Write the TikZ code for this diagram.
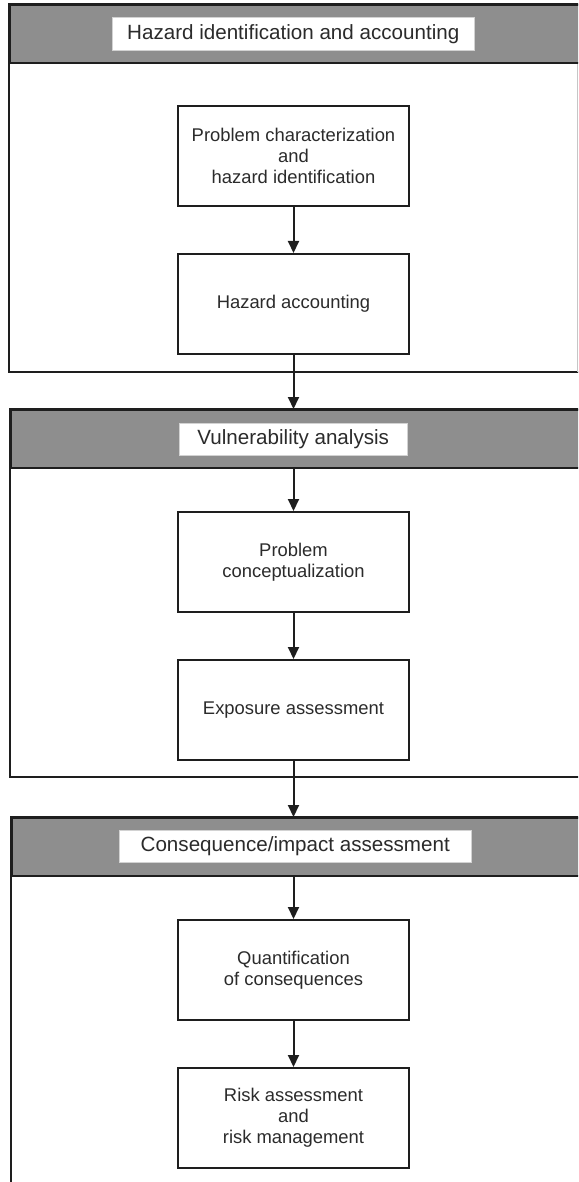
\documentclass[tikz,border=0pt]{standalone}
\usepackage{fontspec}
\setmainfont{Liberation Sans}
\usetikzlibrary{arrows.meta}
\definecolor{hdr}{HTML}{8E8E8E}
\definecolor{ink}{HTML}{1E1E1E}
\definecolor{txt}{HTML}{2B2B2B}
\begin{document}
\begin{tikzpicture}[x=1pt,y=-1pt,
  panel/.style={draw=ink,line width=2pt},
  header/.style={draw=ink,line width=2.4pt,fill=hdr,anchor=north west,inner sep=0pt,minimum height=58pt},
  title/.style={fill=white,draw=gray!35,line width=0.5pt,anchor=north west,inner sep=0pt,font=\fontsize{20.6}{24}\selectfont,text=txt},
  stepbox/.style={draw=ink,line width=2pt,fill=white,anchor=north west,inner sep=0pt,minimum width=231pt,minimum height=100pt,align=center,font=\fontsize{18.4}{21}\selectfont,text=txt},
  flow/.style={draw=ink,line width=2pt,-{Triangle[length=12pt,width=11pt]}}]
\useasboundingbox (0,0) rectangle (578,1182);
\clip (0,0) rectangle (578,1182);
% panel 1
\draw[panel] (590,4) -- (9,4) -- (9,372) -- (590,372);
\draw[gray!45,line width=1pt] (577,4) -- (577,372);
\node[header,minimum width=581pt] (h1) at (9,4) {};
\node[title,minimum width=362pt,minimum height=33pt] (t1) at (112,17) {Hazard identification and accounting};
\node[stepbox] (b1) at (177,105) {Problem characterization\\and\\hazard identification};
\node[stepbox] (b2) at (177,253) {Hazard accounting};
% panel 2
\draw[panel] (590,409) -- (10,409) -- (10,777) -- (590,777);
\node[header,minimum width=580pt] (h2) at (10,409) {};
\node[title,minimum width=228pt,minimum height=32pt] (t2) at (179,423) {Vulnerability analysis};
\node[stepbox] (b3) at (177,511) {Problem\\conceptualization};
\node[stepbox] (b4) at (177,659) {Exposure assessment};
% panel 3
\draw[panel] (590,817) -- (11,817) -- (11,1195);
\node[header,minimum width=579pt] (h3) at (11,817) {};
\node[title,minimum width=352pt,minimum height=32pt] (t3) at (119,830) {Consequence/impact assessment};
\node[stepbox] (b5) at (177,919) {Quantification\\of consequences};
\node[stepbox] (b6) at (177,1067) {Risk assessment\\and\\risk management};
% connectors
\draw[flow] (b1.south) -- (b2.north);
\draw[flow] (b2.south) -- (b2.south |- h2.north);
\draw[flow] (b2.south |- h2.south) -- (b3.north);
\draw[flow] (b3.south) -- (b4.north);
\draw[flow] (b4.south) -- (b4.south |- h3.north);
\draw[flow] (b4.south |- h3.south) -- (b5.north);
\draw[flow] (b5.south) -- (b6.north);
\end{tikzpicture}
\end{document}
